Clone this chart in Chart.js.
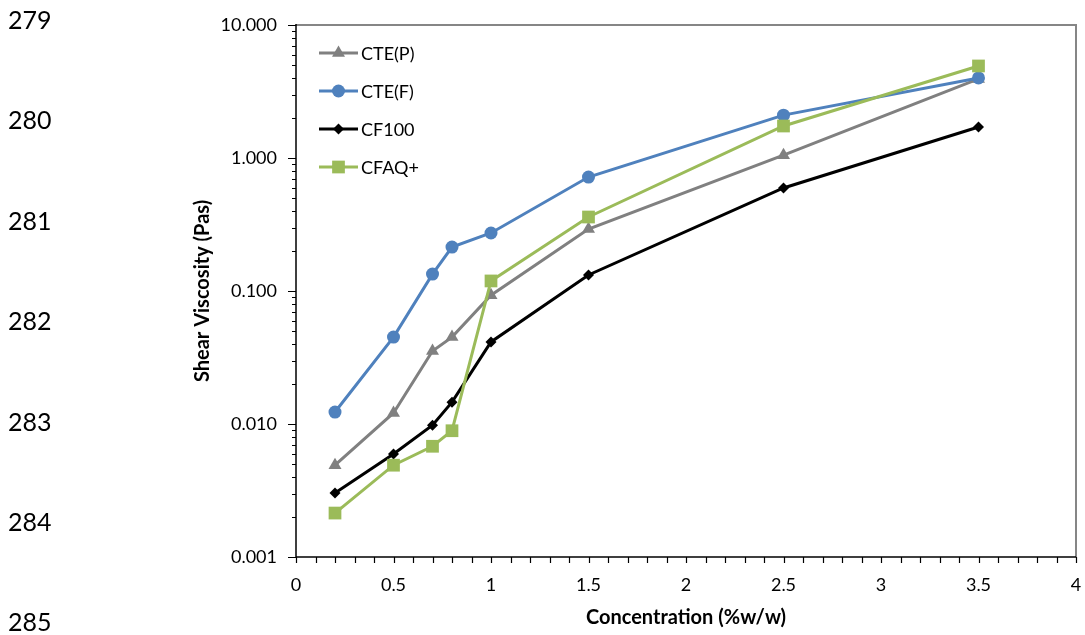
<!DOCTYPE html>
<html><head><meta charset="utf-8">
<script src="https://cdn.jsdelivr.net/npm/chart.js@4.4.0/dist/chart.umd.min.js"></script>
<style>
html,body{margin:0;padding:0;background:#fff;}
#wrap{position:relative;width:1085px;height:635px;overflow:hidden;}
#c{position:absolute;left:0;top:0;}
.ln{position:absolute;left:8px;font-family:Lato,"Open Sans",sans-serif;font-size:25px;line-height:30px;color:#000;}
</style></head><body>
<div id="wrap"><canvas id="c" width="1085" height="635"></canvas></div>
<script>
const lineNumbers = ['279','280','281','282','283','284','285'];
const concentration = [0.2, 0.5, 0.7, 0.8, 1.0, 1.5, 2.5, 3.5];
const ctep  = [0.0049, 0.0121, 0.0354, 0.045, 0.093, 0.292, 1.05, 3.93];
const ctef  = [0.0123, 0.045, 0.134, 0.214, 0.273, 0.719, 2.10, 4.0];
const cf100 = [0.00303, 0.00595, 0.0098, 0.0146, 0.0414, 0.132, 0.595, 1.71];
const cfaq  = [0.00214, 0.0049, 0.0068, 0.0089, 0.119, 0.36, 1.74, 4.92];
const seriesNames = ['CTE(P)', 'CTE(F)', 'CF100', 'CFAQ+'];
const yTickValues = [0.001, 0.01, 0.1, 1, 10];
const yTickLabels = ['0.001', '0.010', '0.100', '1.000', '10.000'];
const xTickValues = [0, 0.5, 1, 1.5, 2, 2.5, 3, 3.5, 4];
const xTickLabels = ['0', '0.5', '1', '1.5', '2', '2.5', '3', '3.5', '4'];
const xAxisTitle = 'Concentration (%w/w)';
const yAxisTitle = 'Shear Viscosity (Pas)';

const wrap = document.getElementById('wrap');
lineNumbers.forEach((t, i) => {
  const d = document.createElement('div');
  d.className = 'ln';
  d.textContent = t;
  d.style.top = (19 + i * 100.4 - 15) + 'px';
  wrap.appendChild(d);
});

const FONT = 'Lato';
const styles = [
  {color: '#808080', pointStyle: 'triangle', radius: 7.5},
  {color: '#4F81BD', pointStyle: 'circle', radius: 6.5},
  {color: '#000000', pointStyle: 'rectRot', radius: 5.5},
  {color: '#9BBB59', pointStyle: 'rect', radius: 9}
];
const seriesData = [ctep, ctef, cf100, cfaq];
const datasets = seriesData.map((vals, i) => ({
  label: seriesNames[i],
  data: concentration.map((x, j) => ({x: x, y: vals[j]})),
  borderColor: styles[i].color,
  backgroundColor: styles[i].color,
  borderWidth: 3,
  pointStyle: styles[i].pointStyle,
  pointRadius: styles[i].radius,
  pointBorderWidth: 0,
  pointBackgroundColor: styles[i].color,
  tension: 0,
  order: 4 - i
}));

const framePlugin = {
  id: 'frame',
  beforeDatasetsDraw(chart) {
    const {ctx, chartArea: a, scales} = chart;
    ctx.save();
    ctx.strokeStyle = '#868686';
    ctx.lineWidth = 2;
    ctx.beginPath();
    ctx.moveTo(a.left, a.top);
    ctx.lineTo(a.right, a.top);
    ctx.lineTo(a.right, a.bottom);
    ctx.stroke();
    ctx.strokeStyle = '#000';
    ctx.lineWidth = 1.5;
    ctx.beginPath();
    ctx.moveTo(a.left, a.top - 1);
    ctx.lineTo(a.left, a.bottom);
    ctx.lineTo(a.right, a.bottom);
    ctx.stroke();
    const ys = scales.y;
    ctx.lineWidth = 1.2;
    ctx.beginPath();
    for (let k = 0; k < yTickValues.length; k++) {
      const base = yTickValues[k];
      const py = Math.round(ys.getPixelForValue(base)) + 0.5;
      ctx.moveTo(a.left - 8, py); ctx.lineTo(a.left, py);
      if (k < yTickValues.length - 1) {
        for (let m = 2; m <= 9; m++) {
          const p = Math.round(ys.getPixelForValue(base * m)) + 0.5;
          ctx.moveTo(a.left - 4, p); ctx.lineTo(a.left, p);
        }
      }
    }
    const xs = scales.x;
    for (let i = 0; i <= 40; i++) {
      const px = Math.round(xs.getPixelForValue(i / 10)) + 0.5;
      ctx.moveTo(px, a.bottom); ctx.lineTo(px, a.bottom + 6);
    }
    ctx.stroke();
    ctx.restore();
  },
  afterDatasetsDraw(chart) {
    const {ctx, chartArea: a} = chart;
    ctx.save();
    chart.data.datasets.forEach((ds, i) => {
      const y = a.top + 28 + i * 38;
      const x0 = a.left + 23, x1 = a.left + 62;
      ctx.strokeStyle = ds.borderColor;
      ctx.lineWidth = 3;
      ctx.beginPath(); ctx.moveTo(x0, y); ctx.lineTo(x1, y); ctx.stroke();
      ctx.fillStyle = ds.pointBackgroundColor;
      Chart.helpers.drawPoint(ctx, {pointStyle: ds.pointStyle, radius: ds.pointRadius, rotation: 0, borderWidth: 0}, (x0 + x1) / 2, y);
      ctx.fillStyle = '#000';
      ctx.font = '18px ' + FONT;
      ctx.textBaseline = 'middle';
      ctx.textAlign = 'left';
      ctx.fillText(ds.label, x1 + 3, y + 1);
    });
    ctx.restore();
  }
};

new Chart(document.getElementById('c'), {
  type: 'line',
  data: {datasets: datasets},
  plugins: [framePlugin],
  options: {
    responsive: false,
    animation: false,
    layout: {padding: {left: 0, top: 25, right: 8, bottom: 0}},
    plugins: {legend: {display: false}, tooltip: {enabled: false}},
    scales: {
      x: {
        type: 'linear', min: 0, max: 4,
        afterBuildTicks: s => { s.ticks = xTickValues.map(v => ({value: v})); },
        afterFit: s => { s.height = 78; s.paddingLeft = 0; s.paddingRight = 0; },
        grid: {display: false, drawTicks: false},
        border: {display: false},
        ticks: {autoSkip: false, maxRotation: 0, padding: 17, color: '#000',
          font: {family: FONT, size: 18},
          callback: (v, i) => xTickLabels[i]},
        title: {display: true, text: xAxisTitle, color: '#000',
          font: {family: FONT, size: 20, weight: 'bold'}, padding: {top: 0, bottom: 5}}
      },
      y: {
        type: 'logarithmic', min: 0.001, max: 10,
        afterBuildTicks: s => { s.ticks = yTickValues.map(v => ({value: v})); },
        afterFit: s => { s.width = 296; s.paddingTop = 0; s.paddingBottom = 0; },
        grid: {display: false, drawTicks: false},
        border: {display: false},
        ticks: {autoSkip: false, padding: 19, color: '#000',
          font: {family: FONT, size: 18},
          callback: (v, i) => yTickLabels[i]},
        title: {display: true, text: yAxisTitle, color: '#000',
          font: {family: FONT, size: 20, weight: 'bold'}, padding: {top: 191, bottom: 0}}
      }
    }
  }
});
</script>
</body></html>
